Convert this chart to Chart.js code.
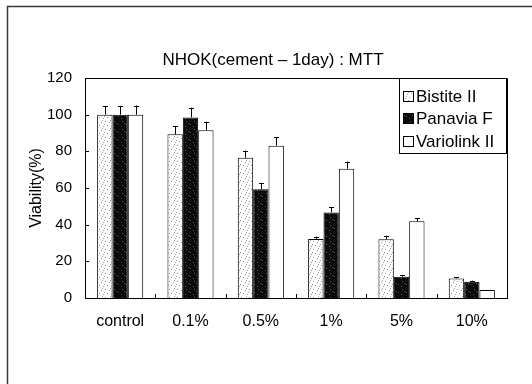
<!DOCTYPE html>
<html>
<head>
<meta charset="utf-8">
<script src="https://cdn.jsdelivr.net/npm/chart.js@4"></script>
<style>
  html, body { margin: 0; padding: 0; background: #fff; }
  canvas { display: block; }
</style>
</head>
<body>
<canvas id="c" width="532" height="384"></canvas>
<script>
// ---- Data ----
const chartTitle = 'NHOK(cement \u2013 1day) : MTT';
const yAxisTitle = 'Viability(%)';
const categories = ['control', '0.1%', '0.5%', '1%', '5%', '10%'];
const seriesNames = ['Bistite II', 'Panavia F', 'Variolink II'];
const bistite   = [100, 89.3, 76.5, 32.2, 32.0, 10.7];
const panavia   = [100, 98.5, 59.3, 46.7, 11.6, 8.9];
const variolink = [100, 91.5, 83.1, 70.5, 41.8, 4.4];
const bistiteErr   = [4.7, 4.5, 3.9, 1.3, 2.0, 0.6];
const panaviaErr   = [4.7, 5.3, 3.2, 2.8, 0.7, 0.6];
const variolinkErr = [5.0, 4.7, 4.5, 3.9, 1.8, 0.0];
const yTicks = [0, 20, 40, 60, 80, 100, 120];

// ---- Fill patterns ----
function makePattern(bg, dot, dots, size) {
  const cv = document.createElement('canvas');
  cv.width = size; cv.height = size;
  const g = cv.getContext('2d');
  g.fillStyle = bg; g.fillRect(0, 0, size, size);
  g.fillStyle = dot;
  dots.forEach(([x, y]) => g.fillRect(x, y, 1, 1));
  return g.createPattern(cv, 'repeat');
}
const ctx = document.getElementById('c').getContext('2d');
const lightPattern = makePattern('#ffffff', '#9a9a9a', [[1,1],[5,2],[3,5],[7,6],[0,4],[6,0]], 8);
const darkPattern  = makePattern('#0a0a0a', '#5a5a5a', [[2,1],[6,4],[1,6],[4,3]], 8);
const fills = [lightPattern, darkPattern, '#ffffff'];
const errs = [bistiteErr, panaviaErr, variolinkErr];

const FONT = "'Liberation Sans', Arial, sans-serif";

const decorPlugin = {
  id: 'decor',
  beforeDraw(chart) {
    const c = chart.ctx;
    c.save();
    c.strokeStyle = '#3a3a3a';
    c.lineWidth = 1.5;
    c.beginPath();
    c.moveTo(7.5, 384); c.lineTo(7.5, 6.5); c.lineTo(532, 6.5);
    c.stroke();
    c.restore();
  },
  afterDatasetsDraw(chart) {
    const c = chart.ctx;
    const y = chart.scales.y;
    const x = chart.scales.x;
    const area = chart.chartArea;
    c.save();
    c.strokeStyle = '#000';
    c.lineWidth = 1;
    // error bars (upward only)
    chart.data.datasets.forEach((ds, di) => {
      const meta = chart.getDatasetMeta(di);
      meta.data.forEach((bar, i) => {
        const e = errs[di][i];
        if (!e) return;
        const top = y.getPixelForValue(ds.data[i] + e);
        const base = y.getPixelForValue(ds.data[i]);
        const bx = Math.round(bar.x) + 0.5;
        c.beginPath();
        c.moveTo(bx, base); c.lineTo(bx, top);
        c.moveTo(bx - 2.5, Math.round(top) + 0.5); c.lineTo(bx + 2.5, Math.round(top) + 0.5);
        c.stroke();
      });
    });
    // plot frame (top & right)
    c.beginPath();
    c.moveTo(area.left, area.top + 0.5); c.lineTo(area.right + 0.5, area.top + 0.5);
    c.lineTo(area.right + 0.5, area.bottom);
    c.stroke();
    // inward tick marks on the y axis
    yTicks.forEach(v => {
      const py = Math.round(y.getPixelForValue(v)) + 0.5;
      c.beginPath(); c.moveTo(area.left, py); c.lineTo(area.left + 4, py); c.stroke();
    });
    // inward tick marks at category boundaries on the x axis
    for (let i = 1; i < categories.length; i++) {
      const px = Math.round((x.getPixelForValue(i - 1) + x.getPixelForValue(i)) / 2) + 0.5;
      c.beginPath(); c.moveTo(px, area.bottom); c.lineTo(px, area.bottom - 4); c.stroke();
    }
    // legend box
    const lx = 399.5, ly = area.top + 0.5, lw = 107, lh = 75;
    c.fillStyle = '#fff';
    c.fillRect(lx, ly, lw, lh);
    c.strokeRect(lx, ly, lw, lh);
    c.font = '17px ' + FONT;
    c.textBaseline = 'middle';
    c.textAlign = 'left';
    chart.data.datasets.forEach((ds, di) => {
      const cy = ly + 17.5 + di * 22.5;
      c.fillStyle = fills[di];
      c.fillRect(403, Math.round(cy - 5.5), 11, 11);
      c.strokeRect(403.5, Math.round(cy - 5.5) + 0.5, 10, 10);
      c.fillStyle = '#000';
      c.fillText(ds.label, 416, cy + 1);
    });
    c.restore();
  }
};

new Chart(ctx, {
  type: 'bar',
  data: {
    labels: categories,
    datasets: [
      { label: seriesNames[0], data: bistite,   backgroundColor: lightPattern, borderColor: '#000', borderWidth: 1 },
      { label: seriesNames[1], data: panavia,   backgroundColor: darkPattern,  borderColor: '#000', borderWidth: 1 },
      { label: seriesNames[2], data: variolink, backgroundColor: '#ffffff',    borderColor: '#000', borderWidth: 1 }
    ]
  },
  options: {
    responsive: false,
    animation: false,
    events: [],
    layout: { padding: { left: 39, right: 25, top: 0, bottom: 0 } },
    datasets: { bar: { categoryPercentage: 0.655, barPercentage: 1.0 } },
    plugins: {
      legend: { display: false },
      tooltip: { enabled: false },
      title: {
        display: true,
        text: chartTitle,
        color: '#000',
        font: { family: FONT, size: 17, weight: 'normal', lineHeight: 1.2 },
        padding: { top: 49.8, bottom: 7.8 }
      }
    },
    scales: {
      x: {
        grid: { display: false, drawTicks: false },
        border: { display: true, color: '#000', width: 1 },
        ticks: { color: '#000', font: { family: FONT, size: 16 }, padding: 14, maxRotation: 0, autoSkip: false },
        afterFit(s) { s.height = 86; }
      },
      y: {
        min: 0, max: 120,
        grid: { display: false, drawTicks: false },
        border: { display: true, color: '#000', width: 1 },
        ticks: { color: '#000', font: { family: FONT, size: 15 }, padding: 13, stepSize: 20,
                 callback: (v) => yTicks.includes(v) ? String(v) : '' },
        title: { display: true, text: yAxisTitle, color: '#000', font: { family: FONT, size: 16 }, padding: { top: -11.6, bottom: 0 } },
        afterFit(s) { s.width = 46; }
      }
    }
  },
  plugins: [decorPlugin]
});
</script>
</body>
</html>
